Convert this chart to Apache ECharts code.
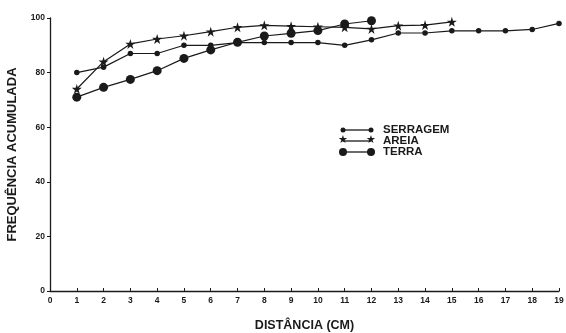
<!DOCTYPE html>
<html><head><meta charset="utf-8">
<script src="https://cdn.jsdelivr.net/npm/echarts@6/dist/echarts.min.js"></script>
<style>html,body{margin:0;padding:0;background:#fff}#c{width:566px;height:333px}</style>
</head><body><div id="c"></div>
<script>
const distances = [1,2,3,4,5,6,7,8,9,10,11,12,13,14,15,16,17,18,19];
const serragem = [80,82,87,87,90,90,91,91,91,91,90,92,94.5,94.5,95.3,95.3,95.3,95.8,98];
const areia = [74,84,90.5,92.3,93.5,95,96.6,97.3,97,96.8,96.6,96,97.2,97.4,98.6];
const terra = [71,74.6,77.5,80.7,85.2,88.3,91.1,93.4,94.4,95.4,97.8,99];
const xTicks = [0,1,2,3,4,5,6,7,8,9,10,11,12,13,14,15,16,17,18,19];
const yTicks = [0,20,40,60,80,100];
const legendNames = ['SERRAGEM','AREIA','TERRA'];

const ink = '#1a1a1a';
const font = 'Liberation Sans';
function pairs(vals){ return vals.map((v,i)=>[distances[i], v]); }

const chart = echarts.init(document.getElementById('c'));
const lx0 = 343, lx1 = 371, ly = [130, 141, 152];
const legendSymbols = ['circle','star','circle'];
const legendSizes = [5, 9, 8];
const graphics = [];
legendNames.forEach((n,i)=>{
  graphics.push({type:'line', shape:{x1:lx0,y1:ly[i],x2:lx1,y2:ly[i]}, style:{stroke:ink, lineWidth:1.3}});
  [lx0,lx1].forEach(x=>{
    if (legendSymbols[i]==='star') {
      graphics.push({type:'text', left:x-5, top:ly[i]-6, style:{text:'★', fill:ink, font:'bold 11px DejaVu Sans'}});
    } else {
      graphics.push({type:'circle', shape:{cx:x, cy:ly[i], r:legendSizes[i]/2}, style:{fill:ink}});
    }
  });
  graphics.push({type:'text', left:383, top:ly[i]-6, style:{text:n, fill:ink, font:'bold 11.5px '+font}});
});

chart.setOption({
  animation:false,
  backgroundColor:'#fff',
  grid:{left:50, right:7, top:18, bottom:42, containLabel:false, outerBoundsMode:'none'},
  xAxis:{type:'value', min:0, max:19, interval:1,
    name:'DISTÂNCIA (CM)', nameLocation:'middle', nameGap:28,
    nameTextStyle:{color:ink, fontFamily:font, fontWeight:'bold', fontSize:12.5},
    axisLine:{lineStyle:{color:ink, width:1.3}},
    axisTick:{show:true, length:3, inside:true, lineStyle:{color:ink}},
    axisLabel:{color:ink, fontFamily:font, fontWeight:'bold', fontSize:8.5, margin:5,
      formatter:v=>xTicks.includes(v)?String(v):''},
    splitLine:{show:false}},
  yAxis:{type:'value', min:0, max:100, interval:20,
    name:'FREQUÊNCIA ACUMULADA', nameLocation:'middle', nameGap:31, nameRotate:90,
    nameTextStyle:{color:ink, fontFamily:font, fontWeight:'bold', fontSize:13},
    axisLine:{show:true, lineStyle:{color:ink, width:1.3}},
    axisTick:{show:true, length:3, lineStyle:{color:ink}},
    axisLabel:{color:ink, fontFamily:font, fontWeight:'bold', fontSize:8.5, margin:5,
      formatter:v=>yTicks.includes(v)?String(v):''},
    splitLine:{show:false}},
  graphic:graphics,
  series:[
    {name:legendNames[0], type:'line', data:pairs(serragem), symbol:'circle', symbolSize:5.5,
      lineStyle:{color:ink, width:1.2}, itemStyle:{color:ink}, z:3},
    {name:legendNames[1], type:'line', data:pairs(areia), symbol:'path://M50,0 L61,35 L98,35 L68,57 L79,92 L50,70 L21,92 L32,57 L2,35 L39,35 Z', symbolSize:10,
      lineStyle:{color:ink, width:1.2}, itemStyle:{color:ink}, z:4},
    {name:legendNames[2], type:'line', data:pairs(terra), symbol:'circle', symbolSize:9,
      lineStyle:{color:ink, width:1.2}, itemStyle:{color:ink}, z:2}
  ]
});
</script></body></html>
